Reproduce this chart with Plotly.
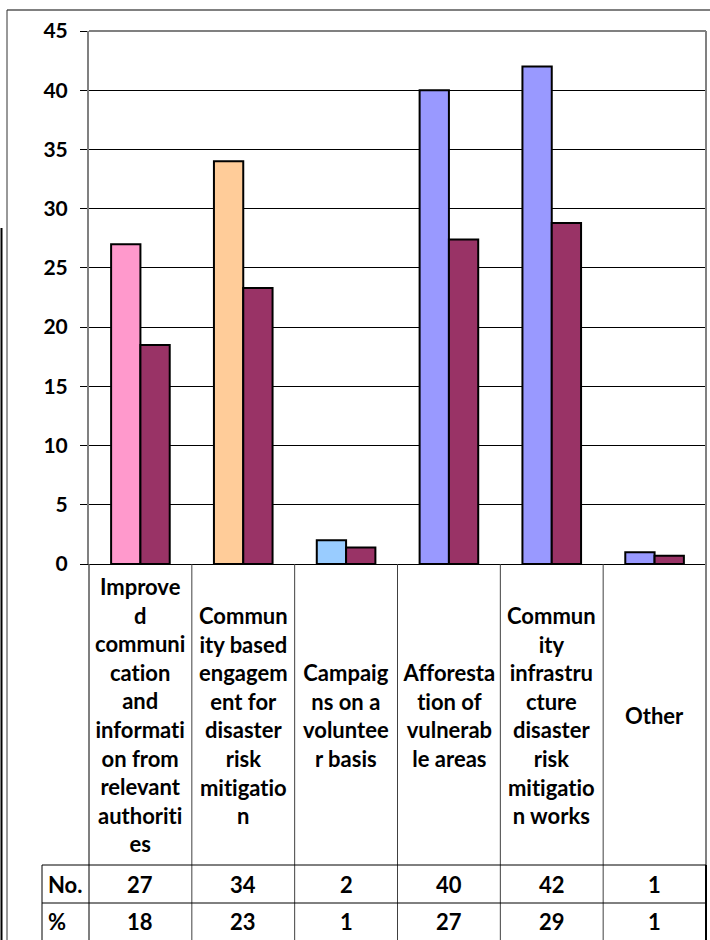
import plotly.graph_objects as go

# category labels, wrapped the same way as the source table
categories = [
    'Improve<br>d<br>communi<br>cation<br>and<br>informati<br>on from<br>relevant<br>authoriti<br>es',
    'Commun<br>ity based<br>engagem<br>ent for<br>disaster<br>risk<br>mitigatio<br>n',
    'Campaig<br>ns on a<br>voluntee<br>r basis',
    'Afforesta<br>tion of<br>vulnerab<br>le areas',
    'Commun<br>ity<br>infrastru<br>cture<br>disaster<br>risk<br>mitigatio<br>n works',
    'Other',
]
counts = [27, 34, 2, 40, 42, 1]
percents = [18.5, 23.3, 1.4, 27.4, 28.8, 0.7]
count_labels = ['27', '34', '2', '40', '42', '1']
percent_labels = ['18', '23', '1', '27', '29', '1']

count_colors = ['#FF99CC', '#FFCC99', '#99CCFF', '#9999FF', '#9999FF', '#9999FF']
pct_color = '#993366'
FONT = 'Lato'

# plot area in pixels: x 89..706, y 31..564
def xp(px):
    return (px - 89) / 617

def yp(py):
    return (564 - py) / 533

fig = go.Figure()
fig.add_trace(go.Bar(x=categories, y=counts, name='No.',
                     marker=dict(color=count_colors, line=dict(color='black', width=2))))
fig.add_trace(go.Bar(x=categories, y=percents, name='%',
                     marker=dict(color=pct_color, line=dict(color='black', width=2))))

fig.update_layout(
    width=710, height=940, autosize=False,
    margin=dict(l=89, r=4, t=31, b=376),
    plot_bgcolor='white', paper_bgcolor='white',
    showlegend=False, barmode='group', bargap=0.43, bargroupgap=0,
    font=dict(family=FONT, size=20, color='black', weight='bold'),
)
fig.update_yaxes(range=[0, 45], dtick=5, showgrid=True, gridcolor='black', gridwidth=1,
                 showline=True, linecolor='#808080', linewidth=2, zeroline=False,
                 ticks='outside', ticklen=7, tickcolor='black', ticklabelstandoff=8,
                 tickfont=dict(family=FONT, size=21, color='black', weight='bold'),
                 automargin=False)
fig.update_xaxes(range=[-0.5, 5.5], showticklabels=False, showline=True,
                 linecolor='black', linewidth=1, ticks='', showgrid=False, automargin=False)

shapes = []
line = lambda **kw: shapes.append(dict(type='line', **kw))
# plot area border (top, right)
line(xref='paper', yref='paper', x0=0, x1=1, y0=1, y1=1, line=dict(color='#808080', width=2))
line(xref='paper', yref='paper', x0=1, x1=1, y0=1, y1=yp(865), line=dict(color='#808080', width=2))
line(xref='paper', yref='paper', x0=1, x1=1, y0=yp(865), y1=yp(942), line=dict(color='black', width=2))
# left axis extended through the table
line(xref='paper', yref='paper', x0=0, x1=0, y0=0, y1=yp(942), line=dict(color='#555555', width=1.5))
# category separators
for i in range(len(categories) - 1):
    line(xref='x', yref='paper', x0=i + 0.5, x1=i + 0.5, y0=0, y1=yp(942),
         line=dict(color='#404040', width=1))
# table rows
for row_y in (865, 903):
    line(xref='paper', yref='paper', x0=xp(42), x1=1, y0=yp(row_y), y1=yp(row_y),
         line=dict(color='black', width=1))
line(xref='paper', yref='paper', x0=xp(42), x1=xp(42), y0=yp(865), y1=yp(942),
     line=dict(color='black', width=1))
# outer chart frame
line(xref='paper', yref='paper', x0=xp(7), x1=xp(712), y0=yp(10), y1=yp(10), line=dict(color='#808080', width=2))
line(xref='paper', yref='paper', x0=xp(7), x1=xp(7), y0=yp(10), y1=yp(942), line=dict(color='#333333', width=1))
line(xref='paper', yref='paper', x0=xp(1.5), x1=xp(1.5), y0=yp(228), y1=yp(942), line=dict(color='black', width=2))
fig.update_layout(shapes=shapes)

annotations = []
lab_font = dict(family=FONT, size=22, color='black', weight='bold')
for cat, n, p in zip(categories, count_labels, percent_labels):
    annotations.append(dict(x=cat, xref='x', y=yp(715), yref='paper', text=cat,
                            showarrow=False, xanchor='center', yanchor='middle',
                            align='center', font=lab_font))
    annotations.append(dict(x=cat, xref='x', y=yp(884), yref='paper', text=n,
                            showarrow=False, xanchor='center', yanchor='middle', font=lab_font))
    annotations.append(dict(x=cat, xref='x', y=yp(921.5), yref='paper', text=p,
                            showarrow=False, xanchor='center', yanchor='middle', font=lab_font))
annotations.append(dict(x=xp(46), xref='paper', y=yp(884), yref='paper', text='No.',
                        showarrow=False, xanchor='left', yanchor='middle', font=lab_font))
annotations.append(dict(x=xp(46), xref='paper', y=yp(921.5), yref='paper', text='%',
                        showarrow=False, xanchor='left', yanchor='middle', font=lab_font))
fig.update_layout(annotations=annotations)

# page has default body margin; remove it so the figure fills the window,
# and switch off Lato's "ti" ligature
post = ("document.body.style.margin='0';"
        "var s=document.createElement('style');"
        "s.textContent='text{font-variant-ligatures:none;font-feature-settings:\"liga\" 0;}';"
        "document.head.appendChild(s);")
fig.write_html("out.html", post_script=post, config={'displayModeBar': False})
